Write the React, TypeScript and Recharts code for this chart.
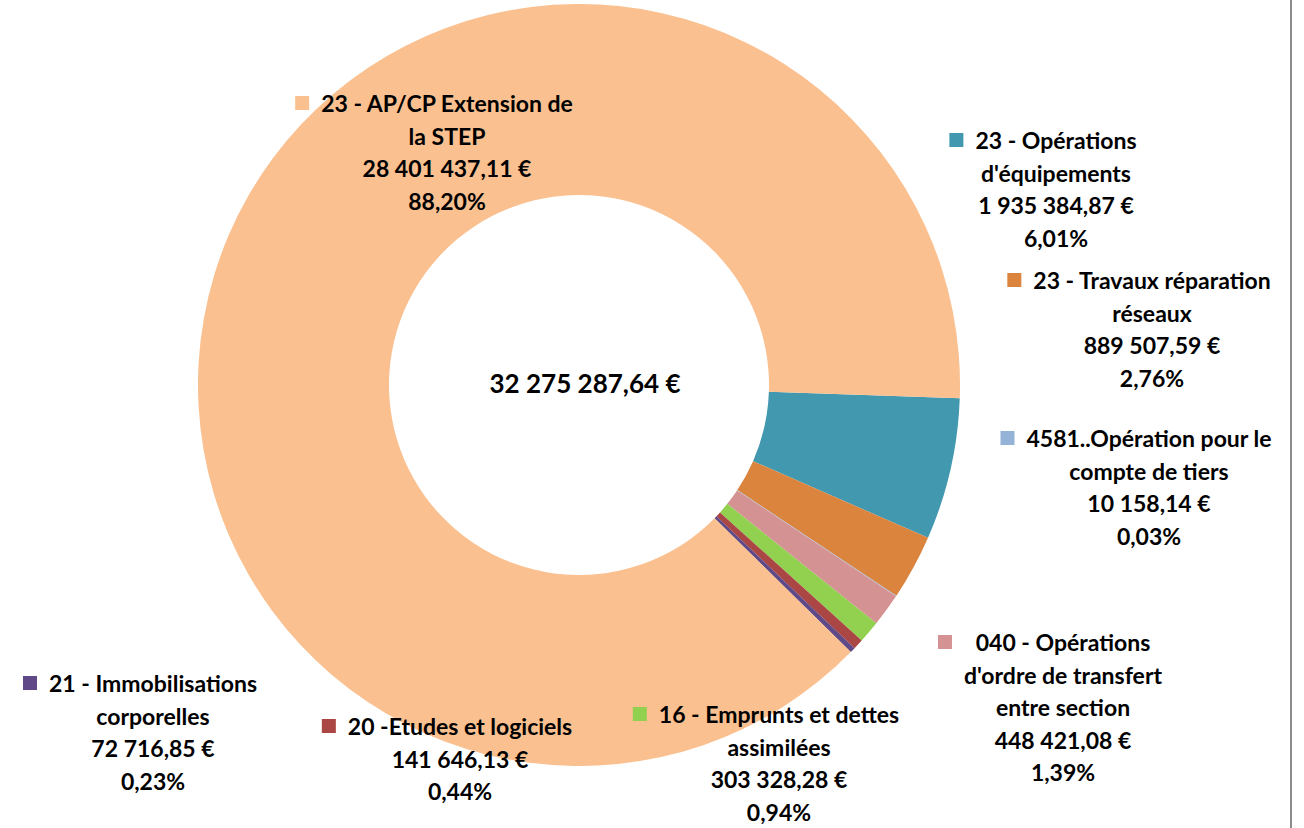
import { PieChart, Pie, Cell } from 'recharts';

// slices in clockwise order, starting just below 3 o'clock
const CATEGORIES = [
  "23 - Opérations d'équipements",
  '23 - Travaux réparation réseaux',
  '4581..Opération pour le compte de tiers',
  "040 - Opérations d'ordre de transfert entre section",
  '16 - Emprunts et dettes assimilées',
  '20 -Etudes et logiciels',
  '21 - Immobilisations corporelles',
  '23 - AP/CP Extension de la STEP',
];
const NAME_LINES = [
  ['23 - Opérations', "d'équipements"],
  ['23 - Travaux réparation', 'réseaux'],
  ['4581..Opération pour le', 'compte de tiers'],
  ['040 - Opérations', "d'ordre de transfert", 'entre section'],
  ['16 - Emprunts et dettes', 'assimilées'],
  ['20 -Etudes et logiciels'],
  ['21 - Immobilisations', 'corporelles'],
  ['23 - AP/CP Extension de', 'la STEP'],
];
const VALUES = [1935384.87, 889507.59, 10158.14, 448421.08, 303328.28, 141646.13, 72716.85, 28401437.11];
const COLORS = ['#4198AF', '#DA843E', '#95B3D7', '#D49392', '#92D050', '#AA4643', '#5F4A87', '#FAC090'];
const TOTAL_LABEL = '32 275 287,64 €';

// where Excel put each data label: centre x of the text column, top of first line
const LABEL_LAYOUT = [
  { cx: 1056, top: 124 },
  { cx: 1152, top: 264 },
  { cx: 1149, top: 422 },
  { cx: 1063, top: 626 },
  { cx: 779, top: 698 },
  { cx: 460, top: 710 },
  { cx: 153, top: 667 },
  { cx: 447, top: 87 },
];

const FONT = 'Lato, "Open Sans", sans-serif';
const LINE_H = 32.5;

function groupThousands(s: string): string {
  return s.replace(/\B(?=(\d{3})+(?!\d))/g, ' ');
}

function formatEuro(v: number): string {
  const [int, dec] = v.toFixed(2).split('.');
  return `${groupThousands(int)},${dec} €`;
}

function formatPct(v: number): string {
  return `${v.toFixed(2).replace('.', ',')}%`;
}

const data = CATEGORIES.map((name, i) => ({ name, value: VALUES[i] }));
const sum = VALUES.reduce((a, b) => a + b, 0);

export default function App() {
  return (
    <div style={{ position: 'absolute', left: 0, top: 0, width: 1304, height: 828, background: '#fff', fontFamily: FONT }}>
      <div style={{ position: 'absolute', left: 1290, top: 0, width: 2, height: 828, background: '#8c8c8c' }} />
      <PieChart width={1290} height={828} margin={{ top: 0, right: 0, bottom: 0, left: 0 }}>
        <Pie
          data={data}
          dataKey="value"
          nameKey="name"
          cx={579}
          cy={385}
          innerRadius={190}
          outerRadius={381}
          startAngle={-2}
          endAngle={-362}
          stroke="none"
          isAnimationActive={false}
          labelLine={false}
        >
          {data.map((d, i) => (
            <Cell key={d.name} fill={COLORS[i]} />
          ))}
        </Pie>
      </PieChart>
      <div
        style={{
          position: 'absolute',
          left: 585,
          top: 383 - 18,
          transform: 'translateX(-50%)',
          fontSize: 26,
          fontWeight: 700,
          lineHeight: '36px',
          color: '#000',
          whiteSpace: 'nowrap',
        }}
      >
        {TOTAL_LABEL}
      </div>
      {data.map((d, i) => {
        const lay = LABEL_LAYOUT[i];
        const lines = [...NAME_LINES[i], formatEuro(d.value), formatPct((d.value / sum) * 100)];
        return (
          <div
            key={d.name}
            style={{
              position: 'absolute',
              left: lay.cx,
              top: lay.top,
              transform: 'translateX(-50%)',
              textAlign: 'center',
              fontSize: 23,
              fontWeight: 700,
              lineHeight: `${LINE_H}px`,
              color: '#000',
              whiteSpace: 'nowrap',
            }}
          >
            <div
              style={{
                position: 'absolute',
                left: -26,
                top: LINE_H / 2 - 7,
                width: 14,
                height: 14,
                background: COLORS[i],
              }}
            />
            {lines.map((t, j) => (
              <div key={j}>{t}</div>
            ))}
          </div>
        );
      })}
    </div>
  );
}
